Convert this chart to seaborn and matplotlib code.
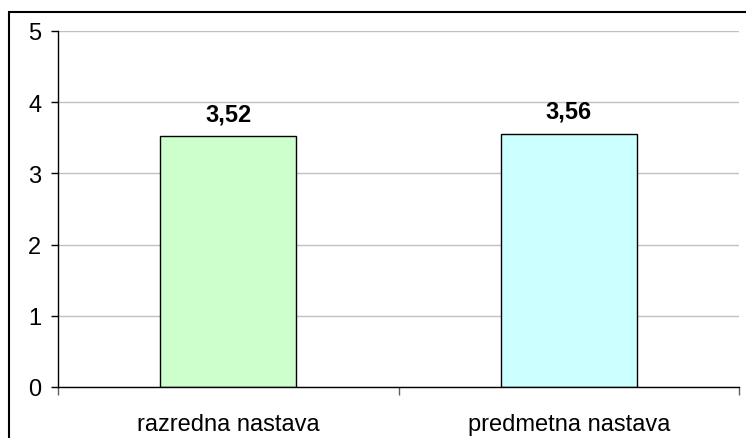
import matplotlib
matplotlib.use("Agg")
import matplotlib.pyplot as plt
import seaborn as sns
import pandas as pd
from matplotlib.patches import Rectangle

categories = ["razredna nastava", "predmetna nastava"]
values = [3.52, 3.56]
value_labels = ["3,52", "3,56"]
bar_colors = ["#CCFFCC", "#CCFFFF"]
y_ticks = [0, 1, 2, 3, 4, 5]

df = pd.DataFrame({"kategorija": categories, "vrijednost": values})

sns.set_style("white")
plt.rcParams["font.family"] = ["Liberation Sans", "DejaVu Sans"]
plt.rcParams["text.color"] = "black"
plt.rcParams["xtick.color"] = "black"
plt.rcParams["ytick.color"] = "black"

fig = plt.figure(figsize=(7.46, 4.39), dpi=100)
ax = fig.add_axes([58 / 746, 1 - 388 / 439, (739 - 58) / 746, (388 - 32) / 439])

sns.barplot(data=df, x="kategorija", y="vrijednost", hue="kategorija",
            palette=bar_colors, saturation=1, width=0.4, edgecolor="black",
            linewidth=1, legend=False, ax=ax)

ax.set_ylim(0, 5)
ax.set_xlim(-0.5, 1.5)
ax.set_yticks(y_ticks)
ax.yaxis.grid(True, color="#C0C0C0", linewidth=1)
ax.set_axisbelow(True)
ax.set_xlabel("")
ax.set_ylabel("")

for side in ["top", "right"]:
    ax.spines[side].set_visible(False)
for side in ["left", "bottom"]:
    ax.spines[side].set_color("black")
    ax.spines[side].set_linewidth(1)

ax.tick_params(axis="y", direction="out", length=5, width=1, color="black",
               labelsize=17, labelcolor="black", pad=7, left=True)
# x ticks sit between categories, labels in the middle
ax.set_xticks([-0.5, 0.5, 1.5], minor=False)
ax.set_xticklabels(["", "", ""])
ax.set_xticks([0, 1], minor=True)
ax.set_xticklabels(categories, minor=True)
ax.tick_params(axis="x", which="major", direction="out", length=6, width=1,
               color="#606060", bottom=True)
ax.tick_params(axis="x", which="minor", length=0, labelsize=17,
               labelcolor="black", pad=19)

for i, (v, lab) in enumerate(zip(values, value_labels)):
    ax.annotate(lab, (i, v), xytext=(0, 11.5), textcoords="offset points",
                ha="center", va="baseline", fontsize=17, fontweight="bold",
                color="black")

fig.patches.append(Rectangle((9 / 746, -0.1), 1.1, 1 - 13 / 439 + 0.1,
                             transform=fig.transFigure, fill=False,
                             edgecolor="black", linewidth=1.5))

fig.savefig("out.png", dpi=100)
